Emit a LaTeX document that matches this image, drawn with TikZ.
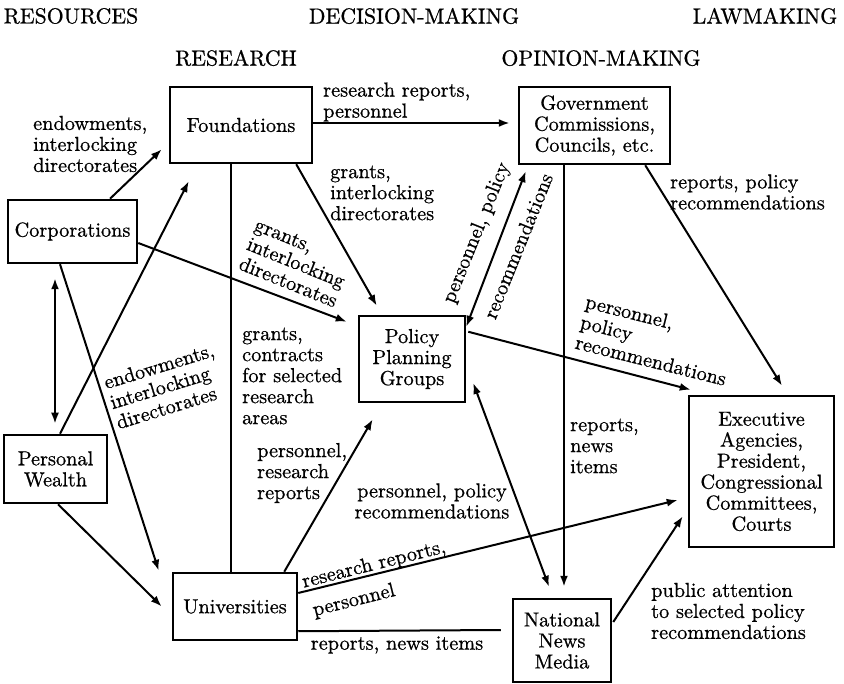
\documentclass[tikz,border=0pt]{standalone}
\usetikzlibrary{arrows.meta,calc}
% Latin Modern at its 10pt design size, scaled up and slightly darkened
\font\chartfont="[lmroman10-regular]:mapping=tex-text;embolden=0.7;" at 20.3pt
\font\headfont="[lmroman10-regular]:mapping=tex-text;embolden=0.7;" at 21.8pt
\begin{document}
\begin{tikzpicture}[x=1pt,y=-1pt,
  font={\chartfont\baselineskip=21pt},
  box/.style={draw, line width=2.5pt, inner sep=0pt, align=center},
  lbl/.style={inner sep=0pt, align=left},
  head/.style={inner sep=0pt, font=\headfont},
  conn/.style={line width=2pt},
  arr/.style={conn, -{Latex[length=11pt,width=8pt]}},
  dbl/.style={conn, {Latex[length=11pt,width=8pt]}-{Latex[length=11pt,width=8pt]}}]
\useasboundingbox (0,0) rectangle (844,684);

% column headings
\node[head] (hres) at (71,16) {RESOURCES};
\node[head] (hdec) at (414,16) {DECISION-MAKING};
\node[head] (hlaw) at (765,16) {LAWMAKING};
\node[head] (hsci) at (236,58) {RESEARCH};
\node[head] (hopn) at (601,58) {OPINION-MAKING};

% institutions
\node[box, minimum width=142pt, minimum height=76pt] (found) at (241,125) {Foundations};
\node[box, minimum width=151pt, minimum height=77pt] (gov) at (594.5,125.5) {Government\\Commissions,\\Councils, etc.};
\node[box, minimum width=129pt, minimum height=63pt] (corp) at (72.5,231.5) {Corporations};
\node[box, minimum width=106pt, minimum height=86pt] (pol) at (412,359) {Policy\\Planning\\Groups};
\node[box, minimum width=103pt, minimum height=68pt] (pw) at (55.5,469) {Personal\\Wealth};
\node[box, minimum width=145pt, minimum height=151pt] (exec) at (761.5,471.5) {Executive\\Agencies,\\President,\\Congressional\\Committees,\\Courts};
\node[box, minimum width=124pt, minimum height=67pt] (univ) at (235,606.5) {Universities};
\node[box, minimum width=98pt, minimum height=83pt] (news) at (562,640.5) {National\\News\\Media};

% flows
\draw[arr] ($(corp.north)+(37.5,0)$) -- ($(found.south west)+(-7,-15)$);
\draw[arr] ($(pw.north)+(4.5,0)$) -- ($(found.south west)+(20,17)$);
\draw[arr] ($(corp.south)+(-12.5,0)$) -- ($(univ.north west)+(-13,-1)$);
\draw[arr] ($(pw.south)+(2.5,0)$) -- ($(univ.west)+(-10,0)$);
\draw[dbl] ($(corp.south)+(-17.5,14)$) -- ($(pw.north)+(-0.5,-10)$);
\draw[arr] ($(corp.east)+(0,11.5)$) -- ($(pol.north west)+(-11,7)$);
\draw[arr] ($(found.east)+(0,-2)$) -- ($(gov.west)+(-8,-2.5)$);
\draw[arr] ($(found.south east)+(-17,0)$) -- ($(pol.north west)+(19,-9)$);
\draw[conn] ($(found.south)+(-10,0)$) -- ($(univ.north)+(-4,0)$);
\draw[arr] ($(univ.north east)+(-14,0)$) -- ($(pol.south west)+(15,16)$);
\draw[dbl] ($(pol.north east)+(0,12)$) -- ($(gov.south west)+(8,6)$);
\draw[arr] ($(pol.north east)+(2,17)$) -- ($(exec.north west)+(3,-5)$);
\draw[arr] ($(gov.south east)+(-26,0)$) -- ($(exec.north)+(20.5,-9)$);
\draw[arr] ($(gov.south)+(-30.5,0)$) -- ($(news.north)+(2,-11)$);
\draw[dbl] ($(pol.east)+(7,24)$) -- ($(news.north)+(-13,-11)$);
\draw[arr] ($(univ.east)+(0,-13.5)$) -- ($(exec.west)+(-10,28.5)$);
\draw[conn] ($(univ.south east)+(0,-10)$) -- ($(news.west)+(-11,-10.5)$);
\draw[arr] ($(news.east)+(1,-18.5)$) -- ($(exec.south west)+(-5,-32)$);

% flow labels
\node[lbl, anchor=west] (l1) at (33,144) {endowments,\\interlocking\\directorates};
\node[lbl, anchor=west] (l2) at (323,102) {research reports,\\personnel};
\node[lbl, anchor=west] (l3) at (330,193) {grants,\\interlocking\\directorates};
\node[lbl, anchor=west] (l4) at (670,192) {reports, policy\\recommendations};
\node[lbl, rotate=-22] (l5) at (296,263) {grants,\\interlocking\\directorates};
\node[lbl, rotate=17] (l6) at (165,386) {endowments,\\interlocking\\directorates};
\node[lbl, anchor=west] (l7) at (242,376) {grants,\\contracts\\for selected\\research\\areas};
\node[lbl, anchor=west] (l8) at (257,473) {personnel,\\research\\reports};
\node[lbl, align=center] (l9) at (432,501) {personnel, policy\\recommendations};
\node[lbl, anchor=west] (l10) at (570,446) {reports,\\news\\items};
\node[lbl, rotate=-14] (l11) at (656,340) {personnel,\\policy\\recommendations};
\node[lbl, rotate=14] (l12) at (374,565) {research reports,};
\node[lbl, rotate=14] (l13) at (354,601) {personnel};
\node[lbl] (l14) at (397,645) {reports, news items};
\node[lbl, anchor=west] (l15) at (651,611) {public attention\\to selected policy\\recommendations};
\node[lbl, rotate=68] (l16) at (477,233) {personnel, policy};
\node[lbl, rotate=68] (l17) at (518,246) {recommendations};
\end{tikzpicture}
\end{document}
